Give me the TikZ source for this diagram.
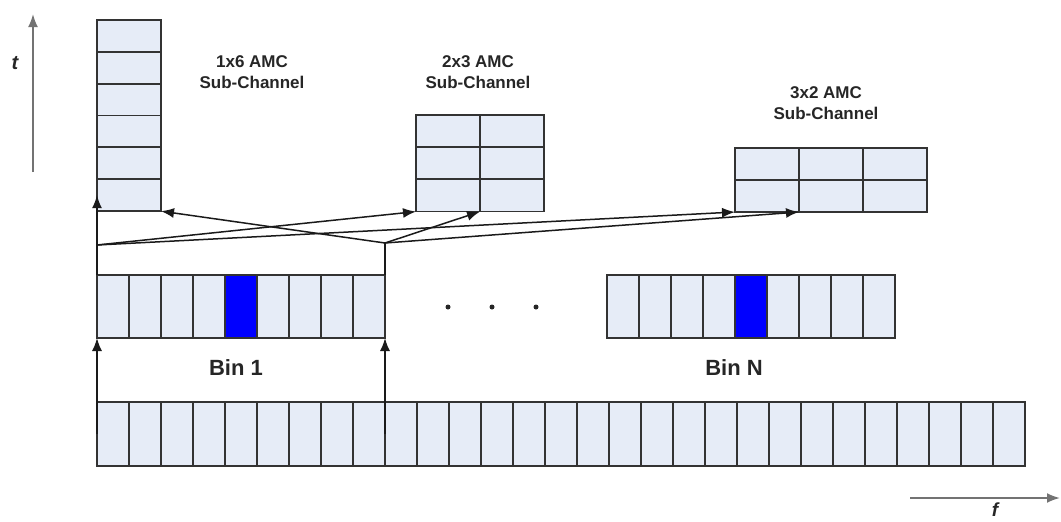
\documentclass[tikz,border=0pt]{standalone}
\usepackage{fontspec}
\setmainfont{Liberation Sans}
\usepackage[HTML]{xcolor}
\usetikzlibrary{positioning, arrows.meta}
\definecolor{cellfill}{HTML}{E6ECF7}
\definecolor{binblue}{HTML}{0000FF}

\begin{document}
\begin{tikzpicture}[x=1pt, y=-1pt,
  cell/.style={draw=black!80, line width=1.7pt, fill=cellfill, inner sep=0pt, outer sep=0pt},
  fcell/.style={cell, minimum width=32pt, minimum height=63pt},
  scell/.style={cell, minimum width=64pt, minimum height=32pt},
  lbl/.style={font=\fontsize{17}{21}\selectfont\bfseries, align=center, text=black!85},
  binlbl/.style={font=\fontsize{22}{26}\selectfont\bfseries, text=black!85},
  dot/.style={circle, fill=black!85, inner sep=0pt, minimum size=5pt},
  link/.style={line width=1.5pt, draw=black!90, -{Latex[length=13pt,width=10pt]}},
  axis/.style={line width=2pt, draw=black!55, -{Latex[length=13pt,width=10pt]}}]

\useasboundingbox (0,0) rectangle (1061,522);

% --- Bottom: all sub-carriers ---
\foreach \i in {1,...,29}
  \node[fcell, minimum height=64pt, anchor=north west] (b\i) at ({97+(\i-1)*32},402) {};

% --- Middle: Bin 1 and Bin N ---
\foreach \i in {1,...,9}{
  \ifnum\i=5 \def\cc{binblue}\else\def\cc{cellfill}\fi
  \node[fcell, fill=\cc, anchor=north west] (p\i) at ({97+(\i-1)*32},275) {};
  \node[fcell, fill=\cc, anchor=north west] (q\i) at ({607+(\i-1)*32},275) {};
}
\foreach \x [count=\k] in {448,492,536}
  \node[dot] (d\k) at (\x,307) {};
\node[binlbl] (bin1) at (236,368) {Bin 1};
\node[binlbl] (binN) at (734,368) {Bin N};

% --- Top: AMC sub-channels ---
% 1x6
\foreach \j in {1,...,6}
  \node[scell, anchor=north west] (a\j) at (97,{20+(\j-1)*31.83}) {};
% 2x3
\foreach \r in {1,2,3}
  \foreach \c in {1,2}
    \node[scell, anchor=north west] (m\r\c) at ({416+(\c-1)*64},{115+(\r-1)*32.3}) {};
% 3x2
\foreach \r in {1,2}
  \foreach \c in {1,2,3}
    \node[scell, anchor=north west] (n\r\c) at ({735+(\c-1)*64},{148+(\r-1)*32}) {};

\node[lbl] (lab1) at (252,72) {1x6 AMC\\Sub-Channel};
\node[lbl] (lab2) at (478,72) {2x3 AMC\\Sub-Channel};
\node[lbl] (lab3) at (826,103) {3x2 AMC\\Sub-Channel};

% --- Mapping arrows ---
\coordinate (lhub) at (97,245);
\coordinate (rhub) at (385,243);
\draw[link] (b1.west) -- (p1.south west);
\draw[link] (b9.east) -- (p9.south east);
\draw[link] (p1.north west) -- (a6.west);
\draw[line width=1.5pt, draw=black!90] (p9.north east) -- (rhub);
\draw[link] (rhub) -- (a6.south east);
\draw[link] (rhub) -- (m31.south east);
\draw[link] (rhub) -- (n21.south east);
\draw[link] (lhub) -- (m31.south west);
\draw[link] (lhub) -- (n21.south west);

% --- Axes ---
\coordinate (t0) at (33,172);
\coordinate (t1) at (33,14);
\draw[axis] (t0) -- (t1);
\node[binlbl, font=\fontsize{20}{24}\selectfont\bfseries\itshape] (tlab) at (15,63) {t};
\coordinate (f0) at (910,498);
\coordinate (f1) at (1060,498);
\draw[axis] (f0) -- (f1);
\node[binlbl, font=\fontsize{19}{22}\selectfont\bfseries\itshape] (flab) at (995,510) {f};

\end{tikzpicture}
\end{document}
